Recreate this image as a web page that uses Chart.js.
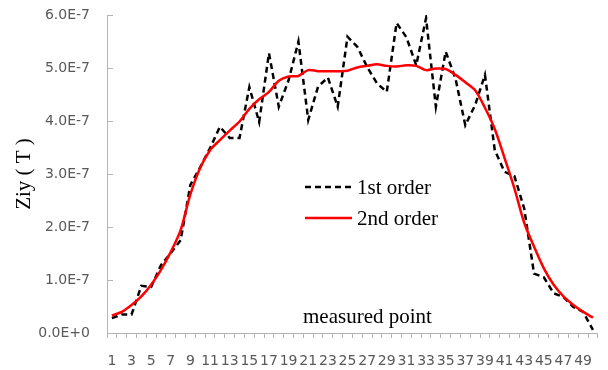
<!DOCTYPE html>
<html>
<head>
<meta charset="utf-8">
<script src="https://cdn.jsdelivr.net/npm/chart.js@4.4.1/dist/chart.umd.min.js"></script>
<style>
html,body{margin:0;padding:0;background:#fff;}
#wrap{width:608px;height:370px;position:relative;}
</style>
</head>
<body>
<div id="wrap"><canvas id="c" width="608" height="370"></canvas></div>
<script>
const categories = [1,2,3,4,5,6,7,8,9,10,11,12,13,14,15,16,17,18,19,20,21,22,23,24,25,26,27,28,29,30,31,32,33,34,35,36,37,38,39,40,41,42,43,44,45,46,47,48,49,50];
const firstOrder = [0.28e-7,0.35e-7,0.35e-7,0.89e-7,0.87e-7,1.28e-7,1.51e-7,1.75e-7,2.80e-7,3.13e-7,
  3.49e-7,3.89e-7,3.68e-7,3.68e-7,4.64e-7,3.98e-7,5.28e-7,4.27e-7,4.77e-7,5.50e-7,
  4.02e-7,4.65e-7,4.82e-7,4.27e-7,5.59e-7,5.40e-7,5.02e-7,4.71e-7,4.55e-7,5.85e-7,
  5.58e-7,5.05e-7,5.94e-7,4.27e-7,5.31e-7,4.80e-7,3.92e-7,4.30e-7,4.87e-7,3.45e-7,
  3.04e-7,2.96e-7,2.35e-7,1.12e-7,1.05e-7,0.75e-7,0.68e-7,0.49e-7,0.40e-7,0.06e-7];
const secondOrder = [0.33e-7,0.40e-7,0.53e-7,0.69e-7,0.91e-7,1.19e-7,1.53e-7,1.94e-7,2.62e-7,3.12e-7,
  3.45e-7,3.64e-7,3.82e-7,3.99e-7,4.23e-7,4.41e-7,4.55e-7,4.76e-7,4.84e-7,4.85e-7,
  4.96e-7,4.94e-7,4.94e-7,4.94e-7,4.95e-7,5.01e-7,5.04e-7,5.07e-7,5.04e-7,5.03e-7,
  5.05e-7,5.04e-7,4.96e-7,4.99e-7,4.98e-7,4.87e-7,4.73e-7,4.58e-7,4.25e-7,3.85e-7,
  3.30e-7,2.73e-7,2.08e-7,1.63e-7,1.22e-7,0.91e-7,0.69e-7,0.53e-7,0.40e-7,0.29e-7];
const seriesNames = ['1st order','2nd order'];
const yTitle = 'Ziy ( T )';
const xTitle = 'measured point';

const axisGray = '#b4b4b4';
const labelGray = '#595959';
const serif = '"Liberation Serif","Times New Roman",serif';

const overlay = {
  id: 'overlay',
  afterDraw(chart) {
    const ctx = chart.ctx, a = chart.chartArea, y = chart.scales.y;
    ctx.save();
    // inside tick marks on y axis
    ctx.strokeStyle = axisGray; ctx.lineWidth = 1;
    y.ticks.forEach(t => {
      const py = Math.round(y.getPixelForValue(t.value)) + 0.5;
      ctx.beginPath(); ctx.moveTo(a.left, py); ctx.lineTo(a.left + 6, py); ctx.stroke();
    });
    // legend
    const ds = chart.data.datasets;
    const lx = a.left + 198, rows = [a.top + 172, a.top + 203];
    ds.forEach((d, i) => {
      ctx.strokeStyle = d.borderColor; ctx.lineWidth = d.borderWidth;
      ctx.setLineDash(d.borderDash || []);
      ctx.beginPath(); ctx.moveTo(lx, rows[i]); ctx.lineTo(lx + 47, rows[i]); ctx.stroke();
      ctx.setLineDash([]);
      ctx.fillStyle = '#000'; ctx.font = '21px ' + serif; ctx.textBaseline = 'middle'; ctx.textAlign = 'left';
      ctx.fillText(d.label, lx + 52, rows[i] + 1);
    });
    // x title inside plot
    ctx.fillStyle = '#000'; ctx.font = '21px ' + serif; ctx.textBaseline = 'alphabetic';
    ctx.fillText(xTitle, a.left + 196, a.bottom - 10);
    ctx.restore();
  }
};

new Chart(document.getElementById('c'), {
  type: 'line',
  data: {
    labels: categories,
    datasets: [
      { label: seriesNames[0], data: firstOrder, borderColor: '#000000', borderWidth: 2.5,
        borderDash: [6, 4], pointRadius: 0, tension: 0, fill: false, order: 2 },
      { label: seriesNames[1], data: secondOrder, borderColor: '#ff0000', borderWidth: 2.5,
        pointRadius: 0, tension: 0.3, fill: false, order: 1 }
    ]
  },
  options: {
    responsive: false,
    animation: false,
    layout: { padding: { left: 12, right: 7, top: 15, bottom: 0 } },
    plugins: { legend: { display: false }, tooltip: { enabled: false } },
    scales: {
      x: {
        type: 'category',
        offset: true,
        afterFit: s => { s.height = 37; },
        grid: { offset: true, drawOnChartArea: false, drawTicks: true, tickLength: 5, color: axisGray },
        border: { display: true, color: axisGray, width: 1 },
        ticks: {
          autoSkip: false, maxRotation: 0, minRotation: 0, padding: 15,
          color: labelGray, font: { family: '"DejaVu Sans"', size: 14 },
          callback: function(v, i) { return i % 2 === 0 ? this.getLabelForValue(v) : ''; }
        }
      },
      y: {
        min: 0, max: 6e-7,
        afterFit: s => { s.width = 95; s.paddingTop = 0; s.paddingBottom = 0; },
        grid: { drawOnChartArea: false, drawTicks: false, color: axisGray },
        border: { display: true, color: axisGray, width: 1 },
        ticks: {
          stepSize: 1e-7, padding: 17, color: labelGray,
          font: { family: '"DejaVu Sans"', size: 14 },
          callback: v => Number(v).toExponential(1).toUpperCase()
        },
        title: { display: true, text: yTitle, color: '#000',
          font: { family: serif, size: 21 }, padding: { top: 0, bottom: 9 } }
      }
    }
  },
  plugins: [overlay]
});
</script>
</body>
</html>
